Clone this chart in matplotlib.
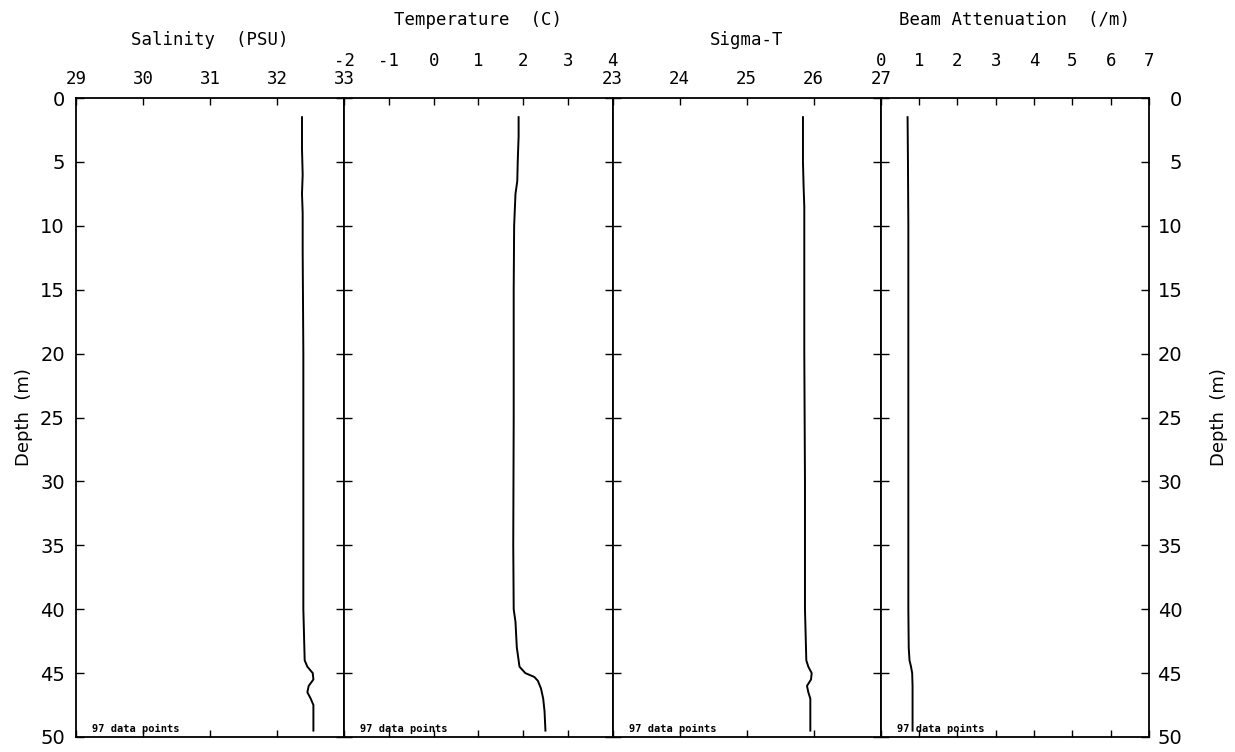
import matplotlib
matplotlib.use('Agg')
import matplotlib.pyplot as plt

# profile vertices (depth in m, value)
sal_depth = [1.5, 4, 6, 7.5, 9, 12, 20, 30, 40, 42, 44, 44.5, 45, 45.5, 46, 46.5, 47, 47.5, 49.5]
sal = [32.37, 32.37, 32.38, 32.37, 32.38, 32.38, 32.39, 32.39, 32.39, 32.40, 32.41, 32.45,
       32.53, 32.54, 32.47, 32.45, 32.50, 32.54, 32.54]

temp_depth = [1.5, 3, 5, 6.5, 7.5, 10, 15, 25, 35, 40, 41, 43, 44.5, 45, 45.3, 45.6,
              46.2, 47, 48, 49.5]
temp = [1.90, 1.90, 1.88, 1.87, 1.83, 1.80, 1.79, 1.79, 1.78, 1.79, 1.83, 1.86, 1.92,
        2.05, 2.25, 2.33, 2.40, 2.45, 2.48, 2.50]

sig_depth = [1.5, 5, 7, 8.5, 10, 20, 30, 40, 42, 44, 44.5, 45, 45.5, 46, 46.5, 47, 49.5]
sig = [25.84, 25.84, 25.85, 25.86, 25.86, 25.86, 25.87, 25.87, 25.88, 25.89, 25.92,
       25.97, 25.96, 25.90, 25.92, 25.95, 25.95]

beam_depth = [1.5, 5, 10, 20, 30, 40, 43, 44, 44.5, 45, 46, 49.5]
beam = [0.70, 0.71, 0.72, 0.72, 0.72, 0.72, 0.73, 0.75, 0.79, 0.82, 0.83, 0.83]

titles = ['Salinity  (PSU)', 'Temperature  (C)', 'Sigma-T', 'Beam Attenuation  (/m)']
xlims = [(29, 33), (-2, 4), (23, 27), (0, 7)]
depth_ticks = list(range(0, 51, 5))
n_points = 97

plt.rcParams['font.family'] = 'DejaVu Sans Mono'
plt.rcParams['axes.unicode_minus'] = False

fig = plt.figure(figsize=(12.35, 7.52), dpi=100)
left, right = 76 / 1235, 1149 / 1235
bottom, top = 15 / 752, (752 - 98) / 752
w = (right - left) / 4

profiles = [(sal, sal_depth), (temp, temp_depth), (sig, sig_depth), (beam, beam_depth)]

for i, ((vals, dep), title, (lo, hi)) in enumerate(zip(profiles, titles, xlims)):
    ax = fig.add_axes([left + i * w, bottom, w, top - bottom])
    ax.plot(vals, dep, color='black', lw=1.4)
    ax.set_xlim(lo, hi)
    ax.set_ylim(50, 0)
    ax.set_xticks(range(lo, hi + 1))
    ax.set_yticks(depth_ticks)
    upper = i % 2 == 1
    ax.tick_params(axis='x', direction='in', top=True, bottom=True, labeltop=True,
                   labelbottom=False, length=5, width=1, labelsize=12.5,
                   pad=20 if upper else 7)
    ax.tick_params(axis='y', direction='in', left=True, right=True,
                   labelleft=(i == 0), labelright=(i == 3), length=6, width=1,
                   labelsize=14, pad=8)
    for t in ax.get_yticklabels():
        t.set_family('DejaVu Sans')
    for s in ax.spines.values():
        s.set_linewidth(1.3)
    ax.annotate(title, xy=(0.5, 1), xycoords='axes fraction',
                xytext=(0, 50 if upper else 35), textcoords='offset points',
                ha='center', va='bottom', fontsize=12.5)
    ax.text(0.06, 0.004, f'{n_points} data points', transform=ax.transAxes,
            fontsize=7.5, fontweight='bold', ha='left', va='bottom')
    if i == 0:
        ax.set_ylabel('Depth  (m)', fontsize=13, labelpad=5, family='DejaVu Sans')
    if i == 3:
        ax.tick_params(axis='y', pad=24)
        for t in ax.get_yticklabels():
            t.set_horizontalalignment('right')
        ax.yaxis.set_label_position('right')
        ax.set_ylabel('Depth  (m)', fontsize=13, labelpad=20, family='DejaVu Sans')

fig.savefig('out.png', dpi=100)
